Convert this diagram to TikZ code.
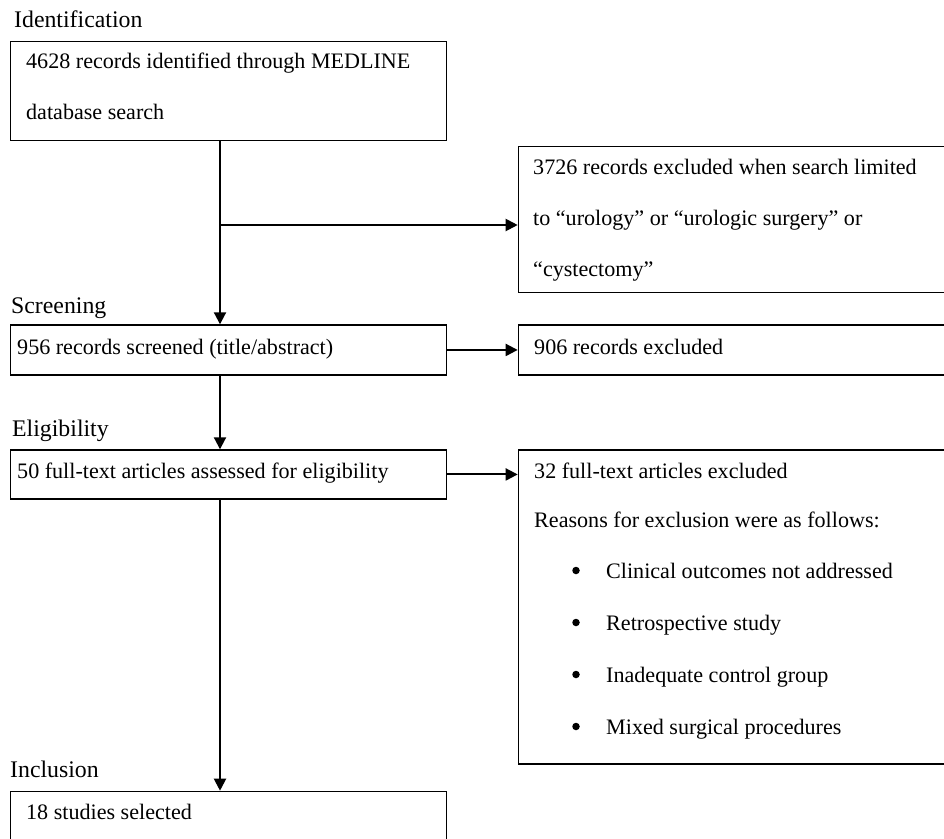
\documentclass[tikz,border=0pt]{standalone}
\usepackage{fontspec}
\setmainfont{Liberation Serif}
\usetikzlibrary{arrows.meta}
\newcommand{\fsz}{\fontsize{22.1}{26}\selectfont}
\newcommand{\flab}{\fontsize{23.8}{28}\selectfont}
\tikzset{
  box/.style={draw, line width=1.3pt, inner sep=0pt, anchor=north west},
  txt/.style={anchor=base west, inner sep=0pt, font=\fsz},
  lab/.style={anchor=base west, inner sep=0pt, font=\flab},
  dot/.style={circle, fill, inner sep=0pt, minimum size=7.5pt},
  arr/.style={line width=2pt, -{Triangle[width=12pt,length=12pt]}}
}
\begin{document}
\begin{tikzpicture}[x=1pt,y=-1pt]
\useasboundingbox (0,0) rectangle (944,838);
\clip (0,0) rectangle (944,838);
% boxes
\node[box, minimum width=435.5pt, minimum height=99.5pt] (b1) at (10,40.5) {};
\node[box, minimum width=435pt, minimum height=145.7pt] (e1) at (517.7,146) {};
\node[box, minimum width=435.5pt, minimum height=50pt] (b2) at (10,324.3) {};
\node[box, minimum width=435pt, minimum height=50pt] (e2) at (517.7,324.3) {};
\node[box, minimum width=435.5pt, minimum height=49pt] (b3) at (10,449.3) {};
\node[box, minimum width=435pt, minimum height=314pt] (e3) at (517.7,449.3) {};
\node[box, minimum width=435.5pt, minimum height=70pt] (b4) at (10,790.7) {};
% stage labels
\node[lab] (lid) at (14,27) {Identification};
\node[lab] (lsc) at (11,313) {Screening};
\node[lab] (lel) at (12,436.5) {Eligibility};
\node[lab] (lin) at (10,777) {Inclusion};
% box texts
\node[txt] (t1a) at (26,68.5) {4628 records identified through MEDLINE};
\node[txt] (t1b) at (26,119) {database search};
\node[txt] (u1a) at (533,174.5) {3726 records excluded when search limited};
\node[txt] (u1b) at (533,225.5) {to “urology” or “urologic surgery” or};
\node[txt] (u1c) at (533,276.5) {“cystectomy”};
\node[txt] (t2) at (17,354) {956 records screened (title/abstract)};
\node[txt] (u2) at (534,354) {906 records excluded};
\node[txt] (t3) at (17,478) {50 full-text articles assessed for eligibility};
\node[txt] (u3a) at (534,478) {32 full-text articles excluded};
\node[txt] (u3b) at (534,527.5) {Reasons for exclusion were as follows:};
\node[dot] (d1) at (576,570.5) {};
\node[dot] (d2) at (576,622.5) {};
\node[dot] (d3) at (576,674.5) {};
\node[dot] (d4) at (576,726.5) {};
\node[txt] (r1) at (606,578) {Clinical outcomes not addressed};
\node[txt] (r2) at (606,630) {Retrospective study};
\node[txt] (r3) at (606,682) {Inadequate control group};
\node[txt] (r4) at (606,734) {Mixed surgical procedures};
\node[txt] (t4) at (26,819) {18 studies selected};
% connectors
\coordinate (spine) at (220,0);
\coordinate (j1) at (220,225);
\draw[arr] (b1.south -| spine) -- (b2.north -| spine);
\draw[arr] (j1) -- (e1.west |- j1);
\draw[arr] (b2.south -| spine) -- (b3.north -| spine);
\draw[arr] (b2.east) -- (e2.west |- b2.east);
\draw[arr] (b3.east) -- (e3.west |- b3.east);
\draw[arr] (b3.south -| spine) -- (b4.north -| spine);
\end{tikzpicture}
\end{document}
